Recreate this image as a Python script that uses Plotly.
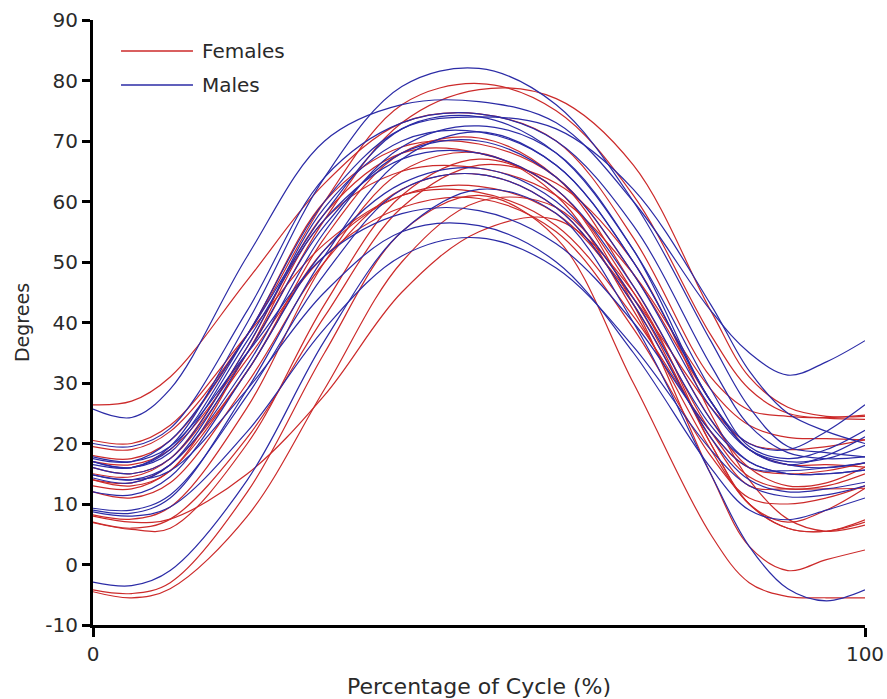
import plotly.graph_objects as go

# Percentage of cycle sample points
cycle_pct = [0, 5, 10, 20, 30, 40, 50, 60, 70, 80, 85, 90, 95, 100]

# Female curves (degrees)
females = [
    [26.4, 27.0, 31.0, 47.0, 63.0, 73.0, 74.5, 70.0, 54.0, 31.0, 25.5, 24.5, 24.3, 24.7],
    [19.5, 19.0, 22.0, 38.0, 60.0, 76.0, 79.5, 75.0, 61.0, 38.0, 29.0, 25.0, 24.2, 24.0],
    [14.0, 13.5, 16.5, 32.0, 54.0, 68.0, 70.5, 64.0, 46.0, 24.0, 16.0, 13.0, 13.5, 16.1],
    [8.2, 7.5, 9.5, 26.0, 50.0, 65.0, 68.0, 61.0, 42.0, 19.0, 10.0, 6.0, 5.5, 7.4],
    [6.9, 5.8, 6.0, 20.0, 43.0, 61.0, 67.0, 62.0, 43.0, 15.0, 3.0, -1.0, 0.8, 2.4],
    [-4.2, -4.8, -3.0, 12.0, 35.0, 55.0, 61.0, 54.0, 30.0, 5.0, -3.0, -5.3, -5.5, -5.5],
    [-4.5, -5.5, -4.0, 8.0, 29.0, 50.0, 60.0, 59.0, 44.0, 20.0, 10.0, 7.0, 9.0, 12.6],
    [13.0, 12.5, 15.5, 32.0, 52.0, 61.0, 62.5, 58.0, 44.0, 26.0, 20.0, 19.0, 19.5, 20.6],
    [20.5, 20.0, 23.0, 38.0, 53.0, 61.0, 61.5, 56.0, 41.0, 22.0, 16.0, 15.0, 15.5, 16.8],
    [16.0, 15.0, 17.5, 34.0, 51.0, 59.0, 60.5, 55.0, 39.0, 18.0, 11.0, 10.0, 11.0, 13.0],
    [8.0, 7.0, 7.5, 15.0, 28.0, 45.0, 55.0, 57.0, 45.0, 20.0, 10.0, 6.0, 5.5, 7.0],
    [14.0, 13.0, 15.5, 35.0, 57.0, 65.0, 65.5, 61.0, 48.0, 29.0, 23.0, 21.0, 20.8, 20.6],
    [18.0, 17.5, 20.5, 38.0, 60.0, 69.0, 69.5, 64.0, 48.0, 27.0, 19.0, 16.5, 16.5, 16.1],
    [12.0, 11.0, 13.5, 30.0, 50.0, 62.0, 64.5, 59.0, 43.0, 21.0, 13.0, 12.5, 12.5, 12.6],
    [15.0, 14.5, 17.5, 36.0, 58.0, 68.0, 68.0, 62.0, 45.0, 22.0, 14.5, 12.5, 13.0, 15.0],
    [7.0, 6.0, 7.5, 21.0, 41.0, 59.0, 66.0, 63.0, 50.0, 25.0, 14.0, 7.5, 5.5, 6.5],
    [17.0, 16.5, 19.0, 35.0, 57.0, 73.0, 78.5, 77.0, 66.0, 42.0, 31.0, 26.0, 24.5, 24.5],
]

# Male curves (degrees)
males = [
    [25.7, 24.3, 29.0, 51.0, 70.0, 76.0, 76.5, 73.0, 60.0, 42.0, 35.0, 31.3, 33.5, 37.0],
    [17.0, 16.0, 19.5, 40.0, 64.0, 79.0, 82.0, 76.0, 60.0, 37.0, 26.0, 19.5, 18.5, 17.8],
    [17.5, 17.0, 20.5, 38.0, 58.0, 72.0, 74.0, 68.0, 52.0, 29.0, 19.5, 17.5, 19.0, 22.2],
    [14.8, 14.0, 16.5, 33.0, 55.0, 69.0, 72.5, 68.0, 52.0, 27.0, 20.0, 19.0, 22.0, 26.4],
    [9.0, 8.5, 11.0, 29.0, 51.0, 67.0, 71.5, 66.0, 50.0, 27.0, 19.0, 16.5, 18.0, 21.1],
    [14.3, 13.5, 16.5, 35.0, 56.0, 68.0, 70.0, 64.0, 48.0, 26.0, 19.0, 17.0, 17.5, 19.7],
    [17.0, 16.0, 18.5, 37.0, 57.0, 67.0, 68.0, 62.0, 46.0, 24.0, 17.0, 15.0, 15.0, 15.6],
    [9.3, 9.0, 11.5, 28.0, 48.0, 62.0, 64.5, 59.0, 43.0, 21.0, 14.0, 12.0, 12.5, 13.6],
    [-2.9, -3.5, -1.0, 14.0, 37.0, 55.0, 62.0, 58.0, 40.0, 15.0, 3.0, -4.0, -6.0, -4.2],
    [17.8, 17.0, 19.5, 35.0, 51.0, 58.0, 58.5, 53.0, 40.0, 22.0, 16.0, 15.5, 16.0, 16.8],
    [14.8, 14.0, 15.5, 29.0, 45.0, 55.0, 56.0, 50.0, 35.0, 16.0, 9.0, 7.4, 9.0, 11.0],
    [8.7, 8.0, 9.5, 22.0, 39.0, 51.0, 54.0, 49.0, 36.0, 19.0, 13.0, 11.2, 11.5, 13.0],
    [20.0, 19.5, 22.5, 42.0, 64.0, 73.0, 74.5, 70.0, 56.0, 33.0, 23.0, 18.5, 17.5, 17.8],
    [16.0, 15.0, 17.5, 36.0, 59.0, 70.0, 71.5, 66.0, 50.0, 27.0, 19.0, 16.5, 16.0, 16.8],
    [12.0, 11.5, 14.5, 32.0, 52.0, 63.0, 65.5, 60.0, 44.0, 23.0, 17.0, 15.0, 15.0, 15.6],
    [16.5, 16.0, 19.0, 38.0, 60.0, 72.0, 74.0, 72.0, 62.0, 43.0, 32.0, 25.0, 22.0, 20.0],
]

series_names = ["Females", "Males"]
y_ticks = list(range(-10, 91, 10))
y_tick_text = [str(v) for v in y_ticks]  # plain hyphen for -10
RED = "#cc2a2a"
BLUE = "#2b2ba6"
FONT = "DejaVu Sans, Arial, sans-serif"
TXT = "#2a2a2a"

fig = go.Figure()

for i, ys in enumerate(females):
    fig.add_trace(go.Scatter(
        x=cycle_pct, y=ys, mode="lines",
        line=dict(color=RED, width=1.2, shape="spline", smoothing=1.0),
        name=series_names[0], showlegend=False, hoverinfo="skip"))

for i, ys in enumerate(males):
    fig.add_trace(go.Scatter(
        x=cycle_pct, y=ys, mode="lines",
        line=dict(color=BLUE, width=1.2, shape="spline", smoothing=1.0),
        name=series_names[1], showlegend=False, hoverinfo="skip"))

# Legend drawn in paper space (long sample lines as in the original)
legend_rows = [(series_names[0], RED, 0.9488), (series_names[1], BLUE, 0.8926)]
for name, col, yy in legend_rows:
    fig.add_shape(type="line", xref="paper", yref="paper",
                  x0=0.0363, x1=0.1295, y0=yy, y1=yy,
                  line=dict(color=col, width=1.3))
    fig.add_annotation(xref="paper", yref="paper", x=0.1386, y=yy,
                       xanchor="left", yanchor="middle", showarrow=False,
                       text=name, font=dict(family=FONT, size=20, color=TXT))

tick_font = dict(family=FONT, size=20, color=TXT)

fig.update_layout(
    width=887, height=699,
    margin=dict(l=93, r=22, t=20, b=74, autoexpand=False),
    paper_bgcolor="white", plot_bgcolor="white",
    font=dict(family=FONT, size=19, color=TXT),
    showlegend=False,
    xaxis=dict(range=[0, 100], tickvals=[0, 100], ticktext=["0", "100"],
               showgrid=False, zeroline=False, showline=True, linecolor="black",
               linewidth=3, ticks="outside", ticklen=9, tickwidth=3, tickcolor="black",
               tickfont=tick_font, automargin=False,
               title=dict(text="Percentage of Cycle (%)",
                          font=dict(family=FONT, size=22, color=TXT), standoff=16)),
    yaxis=dict(range=[-10, 90], tickvals=y_ticks, ticktext=y_tick_text,
               showgrid=False, zeroline=False, showline=True, linecolor="black",
               linewidth=3, ticks="outside", ticklen=8, tickwidth=3, tickcolor="black",
               tickfont=tick_font, automargin=False,
               title=dict(text="Degrees", font=dict(family=FONT, size=19, color=TXT),
                          standoff=11)),
)

fig.write_html("out.html")
